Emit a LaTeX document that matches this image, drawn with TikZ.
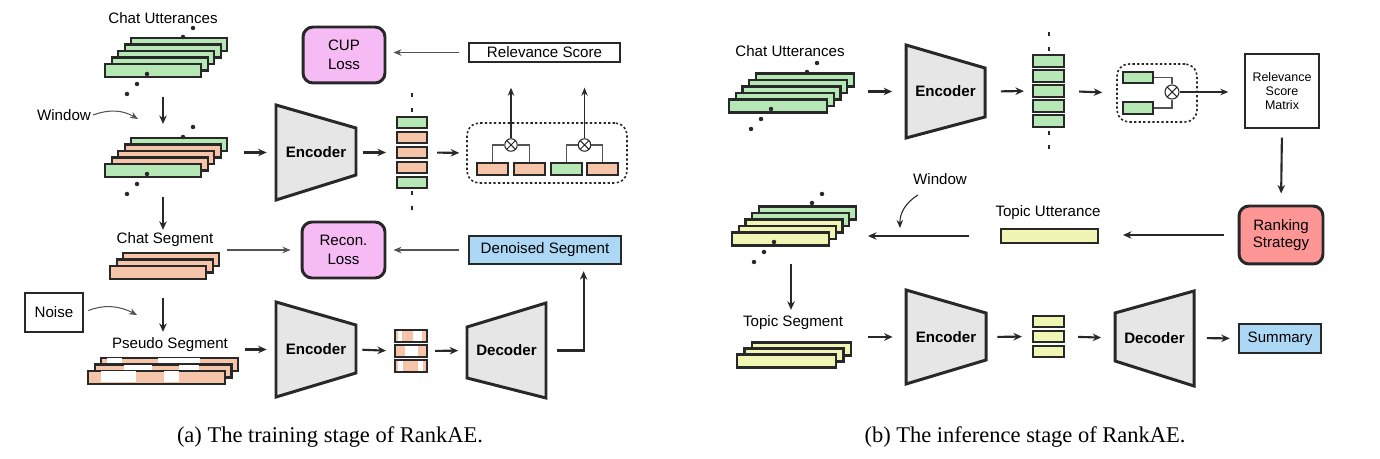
\documentclass[tikz,border=0pt]{standalone}
\usepackage{fontspec}
\setmainfont{Liberation Serif}
\setsansfont{Liberation Sans}
\usetikzlibrary{arrows.meta,calc,positioning}
\definecolor{uttgreen}{RGB}{181,232,181}
\definecolor{segsalmon}{RGB}{246,196,168}
\definecolor{topicyellow}{RGB}{240,245,180}
\definecolor{losspink}{RGB}{246,186,244}
\definecolor{rankred}{RGB}{255,150,150}
\definecolor{sumblue}{RGB}{173,216,245}
\definecolor{encgray}{RGB}{230,230,230}
\definecolor{edge}{RGB}{40,40,40}
\newcommand{\labfont}{\sffamily\fontsize{8.6}{10}\selectfont}
\newcommand{\rsmfont}{\sffamily\fontsize{7.1}{8}\selectfont}
\newcommand{\capfont}{\rmfamily\fontsize{12.8}{15}\selectfont}

\begin{document}
\begin{tikzpicture}[x=0.02cm, y=-0.02cm,
    bar/.style={draw=edge, line width=1.2pt, minimum width=1.92cm, minimum height=0.26cm, inner sep=0pt},
    cell/.style={draw=edge, line width=1.2pt, minimum width=0.62cm, minimum height=0.23cm, inner sep=0pt},
    lbl/.style={font=\labfont, inner sep=1pt},
    codec/.style={font=\bfseries\labfont, minimum width=1.6cm, minimum height=0.9cm, inner sep=0pt},
    trap/.style={draw=edge, line width=1.7pt, fill=encgray, line join=miter},
    lossbox/.style={draw=edge, line width=1.7pt, rounded corners=0.2cm, align=center, inner sep=0pt, font=\sffamily\fontsize{8.6}{11}\selectfont},
    plainbox/.style={draw=edge, line width=0.8pt, align=center, inner sep=0pt},
    pairbox/.style={draw=edge, line width=0.9pt, dash pattern=on 1.3pt off 1.3pt, rounded corners=0.24cm, inner sep=0pt},
    otimes/.style={circle, draw=edge, line width=0.6pt, fill=white, minimum size=0.25cm, inner sep=0pt,
      path picture={\draw[edge, line width=0.6pt] (path picture bounding box.north west) -- (path picture bounding box.south east)
        (path picture bounding box.south west) -- (path picture bounding box.north east);}},
    wire/.style={draw=edge!80, line width=0.6pt},
    arr/.style={draw=edge, line width=1.2pt, -{Stealth[length=0.17cm, width=0.15cm]}},
    thinarr/.style={draw=edge!80, line width=0.6pt, -{Stealth[length=0.16cm, width=0.13cm]}}
  ]
    \useasboundingbox (0,0) rectangle (1380,459);

    % ===== (a) training stage =====
    \coordinate (colA) at (163,0);

    % Chat utterances: 5 green bars
    \node[lbl] (culbl) at (163,18) {Chat Utterances};
    \foreach \k in {4,3,2,1,0} {
      \pgfmathsetmacro{\xx}{153+6.6*\k}
      \pgfmathsetmacro{\yy}{70.5-6.5*\k}
      \node[bar, fill=uttgreen] (cu-\k) at (\xx,\yy) {};
    }
    \foreach \px/\py in {193/28,183/37,147/74,137/84,127/94}
      \fill[edge] (\px,\py) circle (0.045cm);

    % Window over the utterances
    \node[lbl] (winlbl) at (64,115) {Window};
    \coordinate (winpt) at (138,119);
    \foreach \k/\c in {4/uttgreen,3/segsalmon,2/segsalmon,1/segsalmon,0/uttgreen} {
      \pgfmathsetmacro{\xx}{153+6.6*\k}
      \pgfmathsetmacro{\yy}{170.5-6.5*\k}
      \node[bar, fill=\c] (win-\k) at (\xx,\yy) {};
    }
    \foreach \px/\py in {193/127,183/137,147/174,137/184,127/194}
      \fill[edge] (\px,\py) circle (0.045cm);

    % Chat segment: 3 salmon bars
    \node[lbl] (seglbl) at (165,240) {Chat Segment};
    \foreach \k in {2,1,0} {
      \pgfmathsetmacro{\xx}{158+6.6*\k}
      \pgfmathsetmacro{\yy}{272.5-6.5*\k}
      \node[bar, fill=segsalmon] (seg-\k) at (\xx,\yy) {};
    }

    % Noise and pseudo segment
    \node[plainbox, font=\labfont, minimum width=1.16cm, minimum height=0.78cm] (noise) at (54,312.5) {Noise};
    \coordinate (noisept) at (137,315);
    \node[lbl] (pslbl) at (170,345) {Pseudo Segment};
    \foreach \k/\a/\b/\c/\d in {2/7/22/58/100,1/30/58/85/105,0/14/49/77/92} {
      \pgfmathsetmacro{\xl}{87+6.5*\k}
      \pgfmathsetmacro{\yt}{370-6.5*\k}
      \node[bar, fill=segsalmon, minimum width=2.74cm, anchor=north west] (ps-\k) at (\xl,\yt) {};
      \fill[white] ({\xl+\a},{\yt+1}) rectangle ({\xl+\b},{\yt+12});
      \fill[white] ({\xl+\c},{\yt+1}) rectangle ({\xl+\d},{\yt+12});
    }

    % Encoders and decoder
    \draw[trap] (276,105) -- (356,128) -- (356,175) -- (276,200) -- cycle;
    \node[codec] (enc1) at (316,152.5) {Encoder};
    \draw[trap] (276,302) -- (356,325) -- (356,373) -- (276,397) -- cycle;
    \node[codec] (enc2) at (316,349.5) {Encoder};
    \draw[trap] (467,327) -- (546,303) -- (546,398) -- (467,378) -- cycle;
    \node[codec] (dec1) at (506.5,350.5) {Decoder};

    % Utterance vectors
    \foreach \i/\c in {1/uttgreen,2/segsalmon,3/segsalmon,4/segsalmon,5/uttgreen} {
      \pgfmathsetmacro{\yy}{107.5+15*\i}
      \node[cell, fill=\c, minimum width=0.6cm] (v1-\i) at (412,\yy) {};
    }
    \foreach \py in {95,110,193,208}
      \fill[edge] (411,{\py-2}) rectangle (413,{\py+2});

    % Latent vectors of the pseudo segment
    \foreach \i/\a/\b/\c/\d in {1/3/7/18/27,2/10/23/10/23,3/3/8/23/28} {
      \pgfmathsetmacro{\yy}{321+15*\i}
      \node[cell, fill=segsalmon, minimum width=0.64cm, minimum height=0.24cm] (lat-\i) at (411,\yy) {};
      \fill[white] ({395+\a},{\yy-5}) rectangle ({395+\b},{\yy+5});
      \fill[white] ({395+\c},{\yy-5}) rectangle ({395+\d},{\yy+5});
    }

    % Pairwise relevance
    \node[pairbox, minimum width=3.2cm, minimum height=1.2cm] (pairs) at (547,153) {};
    \foreach \i/\xx/\c in {1/492.5/segsalmon,2/529.5/segsalmon,3/566.5/uttgreen,4/602.5/segsalmon}
      \node[cell, fill=\c] (p-\i) at (\xx,169) {};
    \node[otimes] (ox1) at (511,145) {};
    \node[otimes] (ox2) at (584.5,145) {};
    \draw[wire] (ox1.west) -| (p-1.north);
    \draw[wire] (ox1.east) -| (p-2.north);
    \draw[wire] (ox2.west) -| (p-3.north);
    \draw[wire] (ox2.east) -| (p-4.north);

    % Boxes
    \node[plainbox, font=\labfont, minimum width=3.02cm, minimum height=0.38cm] (rel) at (544.5,52.5) {Relevance Score};
    \node[lossbox, fill=losspink, minimum width=1.64cm, minimum height=1.12cm] (cup) at (344,55) {CUP\\Loss};
    \node[lossbox, fill=losspink, minimum width=1.66cm, minimum height=1.12cm] (recon) at (343.5,250) {Recon.\\Loss};
    \node[plainbox, line width=1.4pt, fill=sumblue, font=\labfont, minimum width=3.04cm, minimum height=0.56cm] (den) at (545,250) {Denoised Segment};

    % Connectors of (a)
    \draw[arr, shorten <=0.38cm, shorten >=0.26cm] (cu-0.south -| colA) -- (win-4.north -| colA);
    \draw[thinarr] (winlbl.east) to[bend left=25] (winpt);
    \draw[arr, shorten <=0.38cm, shorten >=0.02cm] (win-0.south -| colA) -- (seglbl.north -| colA);
    \draw[arr, shorten <=0.36cm, shorten >=0.08cm] (seg-0.south -| colA) -- (pslbl.north -| colA);
    \draw[thinarr, shorten <=0.1cm] (noise.east) to[bend left=25] (noisept);
    \draw[arr, shorten <=0.31cm, shorten >=0.18cm] (enc1.west -| win-4.east) -- (enc1.west);
    \draw[arr, shorten <=0.14cm, shorten >=0.2cm] (enc1.east) -- (v1-3.west);
    \draw[arr, shorten <=0.18cm, shorten >=0.14cm] (v1-3.east) -- (pairs.west);
    \draw[thinarr, draw=edge, shorten >=0.5cm] (ox1.north) -- (ox1.north |- rel.south);
    \draw[thinarr, draw=edge, shorten >=0.5cm] (ox2.north) -- (ox2.north |- rel.south);
    \draw[thinarr, shorten <=0.18cm, shorten >=0.14cm] (rel.west) -- (rel.west -| cup.east);
    \draw[thinarr, shorten <=0.14cm, shorten >=0.2cm] (recon.west -| seg-2.east) -- (recon.west);
    \draw[thinarr, shorten <=0.18cm, shorten >=0.14cm] (den.west) -- (recon.east);
    \draw[arr, shorten <=0.12cm, shorten >=0.18cm] (enc2.west -| ps-2.east) -- (enc2.west);
    \draw[arr, shorten <=0.12cm, shorten >=0.16cm] (enc2.east) -- (lat-2.west);
    \draw[arr, shorten <=0.14cm, shorten >=0.16cm] (lat-2.east) -- (dec1.west);
    \draw[arr, shorten <=0.2cm, shorten >=0.12cm] (dec1.east) -| ($(den.south)!0.5!(den.south east)$);

    \node[font=\capfont] (capa) at (330,437) {(a) The training stage of RankAE.};

    % ===== (b) inference stage =====
    \coordinate (colB) at (791,0);

    % Chat utterances: 5 green bars
    \node[lbl] (bculbl) at (790,51) {Chat Utterances};
    \foreach \k in {4,3,2,1,0} {
      \pgfmathsetmacro{\xx}{778+6.75*\k}
      \pgfmathsetmacro{\yy}{106-6.5*\k}
      \node[bar, fill=uttgreen, minimum width=1.96cm] (bcu-\k) at (\xx,\yy) {};
    }
    \foreach \px/\py in {817/63,807/72,771/109,761/119,751/129}
      \fill[edge] (\px,\py) circle (0.045cm);

    % Encoder and utterance vectors
    \draw[trap] (906,45) -- (985,68) -- (985,117) -- (906,138) -- cycle;
    \node[codec] (encb1) at (945.5,91.5) {Encoder};
    \foreach \i in {1,...,5} {
      \pgfmathsetmacro{\yy}{46+15*\i}
      \node[cell, fill=uttgreen] (colb-\i) at (1048.5,\yy) {};
    }
    \foreach \py in {34,49,133,147}
      \fill[edge] (1047.5,{\py-2}) rectangle (1049.5,{\py+2});

    % Pairwise relevance
    \node[pairbox, minimum width=1.6cm, minimum height=1.16cm] (pairb) at (1157,93) {};
    \node[cell, fill=uttgreen, minimum width=0.6cm] (pb-1) at (1138,77.5) {};
    \node[cell, fill=uttgreen, minimum width=0.6cm] (pb-2) at (1138,108) {};
    \node[otimes, minimum size=0.28cm] (ob) at (1172,92) {};
    \draw[wire] (pb-1.east) -| (ob.north);
    \draw[wire] (pb-2.east) -| (ob.south);
    \node[plainbox, font=\rsmfont, minimum width=1.48cm, minimum height=1.48cm] (rsm) at (1282,91) {Relevance\\Score\\Matrix};
    \node[lossbox, fill=rankred, minimum width=1.68cm, minimum height=1.16cm, font=\sffamily\fontsize{8.6}{10}\selectfont] (rank) at (1281,235) {Ranking\\Strategy};

    % Topic utterance and window
    \node[lbl] (tulbl) at (1048,213) {Topic Utterance};
    \node[bar, fill=topicyellow, minimum width=1.94cm, minimum height=0.28cm] (tub) at (1049.5,236) {};
    \node[lbl] (winlblb) at (940,179) {Window};
    \coordinate (wbs) at (918,195);
    \coordinate (wbe) at (900,228);
    \foreach \k/\c in {4/uttgreen,3/uttgreen,2/topicyellow,1/topicyellow,0/topicyellow} {
      \pgfmathsetmacro{\xx}{780.5+6.75*\k}
      \pgfmathsetmacro{\yy}{239-6.5*\k}
      \node[bar, fill=\c, minimum width=1.94cm] (bw-\k) at (\xx,\yy) {};
    }
    \foreach \px/\py in {822/194,812/203,774/242,764/252,754/262}
      \fill[edge] (\px,\py) circle (0.045cm);

    % Topic segment: 3 yellow bars
    \node[lbl] (tslbl) at (793,323) {Topic Segment};
    \foreach \k in {2,1,0} {
      \pgfmathsetmacro{\xx}{786.5+7.5*\k}
      \pgfmathsetmacro{\yy}{361-6*\k}
      \node[bar, fill=topicyellow, minimum width=1.98cm] (ts-\k) at (\xx,\yy) {};
    }

    % Encoder, latent vectors, decoder
    \draw[trap] (906,290) -- (986,313) -- (986,360) -- (906,384) -- cycle;
    \node[codec] (encb2) at (946,337) {Encoder};
    \foreach \i in {1,2,3} {
      \pgfmathsetmacro{\yy}{306.5+15*\i}
      \node[cell, fill=topicyellow] (latb-\i) at (1048.5,\yy) {};
    }
    \draw[trap] (1115,313) -- (1194,291) -- (1194,386) -- (1115,361) -- cycle;
    \node[codec] (decb) at (1154.5,338) {Decoder};
    \node[plainbox, line width=1.4pt, fill=sumblue, font=\labfont, minimum width=1.64cm, minimum height=0.58cm] (sum) at (1280,338.5) {Summary};

    % Connectors of (b)
    \draw[arr, shorten <=0.26cm, shorten >=0.26cm] (encb1.west -| bcu-4.east) -- (encb1.west);
    \draw[arr, shorten <=0.3cm, shorten >=0.16cm] (encb1.east) -- (colb-3.west);
    \draw[arr, shorten <=0.28cm, shorten >=0.28cm] (colb-3.east) -- (pairb.west);
    \draw[thinarr, draw=edge, shorten >=0.32cm] (ob.east) -- (ob.east -| rsm.west);
    \draw[arr, shorten <=0.18cm, shorten >=0.22cm] (rsm.south) -- (rank.north);
    \draw[arr, shorten <=0.28cm, shorten >=0.48cm] (rank.west) -- (rank.west -| tub.east);
    \draw[arr, shorten <=0.62cm, shorten >=0.22cm] (tub.west) -- (tub.west -| bw-4.east);
    \draw[thinarr, draw=edge] (wbs) to[bend right=30] (wbe);
    \draw[arr, shorten <=0.34cm, shorten >=0.08cm] (bw-0.south -| colB) -- (tslbl.north -| colB);
    \draw[arr, shorten <=0.32cm, shorten >=0.26cm] (encb2.west -| ts-2.east) -- (encb2.west);
    \draw[arr, shorten <=0.22cm, shorten >=0.2cm] (encb2.east) -- (latb-2.west);
    \draw[arr, shorten <=0.26cm, shorten >=0.26cm] (latb-2.east) -- (decb.west);
    \draw[arr, shorten <=0.24cm, shorten >=0.16cm] (decb.east) -- (sum.west);

    \node[font=\capfont] (capb) at (1025,437) {(b) The inference stage of RankAE.};
\end{tikzpicture}
\end{document}
